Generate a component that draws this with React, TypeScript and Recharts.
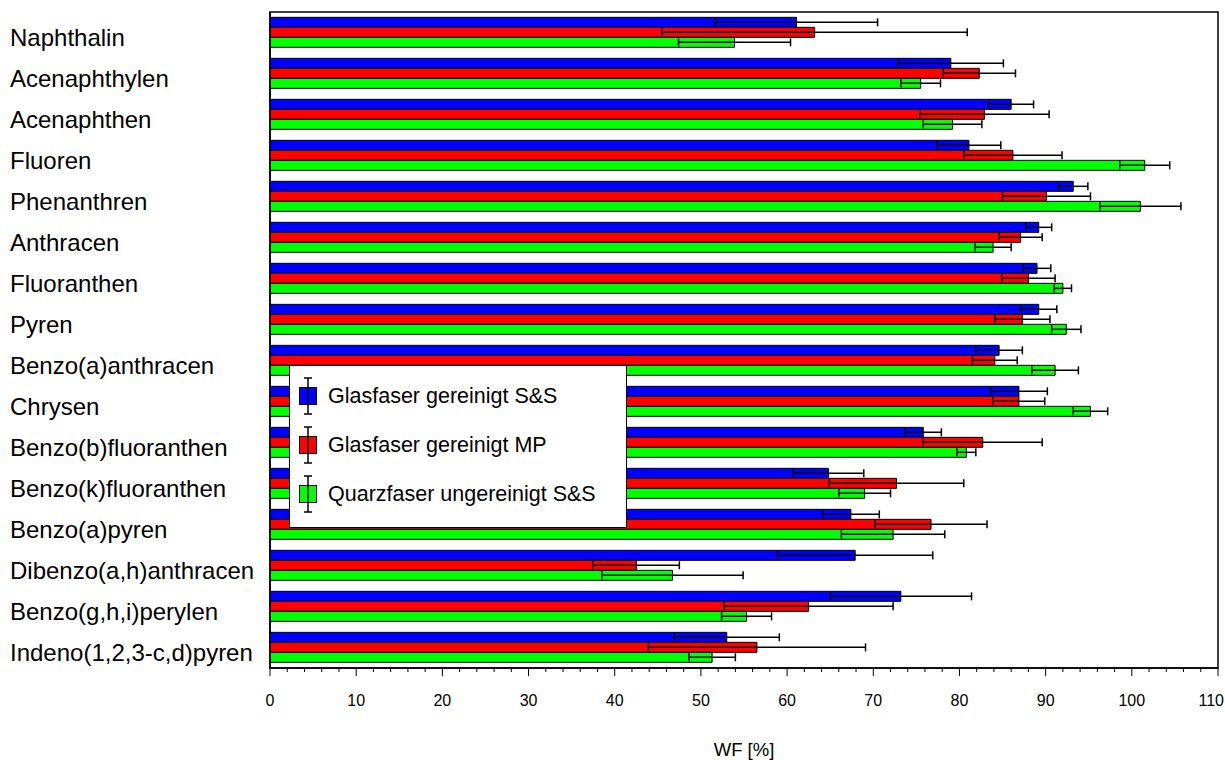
import { Bar, BarChart, ErrorBar, Legend, ReferenceArea, XAxis, YAxis } from "recharts";

const COMPOUNDS = [
  "Naphthalin",
  "Acenaphthylen",
  "Acenaphthen",
  "Fluoren",
  "Phenanthren",
  "Anthracen",
  "Fluoranthen",
  "Pyren",
  "Benzo(a)anthracen",
  "Chrysen",
  "Benzo(b)fluoranthen",
  "Benzo(k)fluoranthen",
  "Benzo(a)pyren",
  "Dibenzo(a,h)anthracen",
  "Benzo(g,h,i)perylen",
  "Indeno(1,2,3-c,d)pyren",
];

// WF [%] mean and standard deviation per filter type
const GLAS_SS = [61.1, 79.0, 86.0, 81.1, 93.2, 89.2, 89.0, 89.2, 84.6, 86.9, 75.8, 64.8, 67.4, 67.9, 73.2, 53.0];
const GLAS_SS_ERR = [9.4, 6.1, 2.6, 3.7, 1.7, 1.5, 1.6, 2.1, 2.7, 3.3, 2.1, 4.1, 3.3, 9.0, 8.2, 6.1];
const GLAS_MP = [63.2, 82.3, 82.9, 86.2, 90.1, 87.1, 88.0, 87.3, 84.1, 86.9, 82.7, 72.7, 76.7, 42.5, 62.5, 56.5];
const GLAS_MP_ERR = [17.7, 4.2, 7.5, 5.7, 5.1, 2.5, 3.1, 3.2, 2.6, 3.0, 6.9, 7.8, 6.5, 5.0, 9.8, 12.6];
const QUARZ_SS = [53.9, 75.5, 79.2, 101.5, 101.0, 83.9, 92.0, 92.4, 91.1, 95.2, 80.8, 69.0, 72.3, 46.7, 55.3, 51.3];
const QUARZ_SS_ERR = [6.5, 2.3, 3.4, 2.9, 4.7, 2.1, 1.0, 1.7, 2.7, 2.0, 1.1, 3.0, 6.0, 8.2, 2.9, 2.7];

const SERIES = [
  { key: "glasSS", name: "Glasfaser gereinigt S&S", color: "#0000ff" },
  { key: "glasMP", name: "Glasfaser gereinigt MP", color: "#ff0000" },
  { key: "quarzSS", name: "Quarzfaser ungereinigt S&S", color: "#00ff00" },
];

const X_MAX = 110;
const X_TICKS = Array.from({ length: X_MAX / 2 + 1 }, (_, i) => i * 2);

const FONT = '"Liberation Sans", Arial, sans-serif';

const data = COMPOUNDS.map((name, i) => ({
  name,
  glasSS: GLAS_SS[i],
  glasSSErr: GLAS_SS_ERR[i],
  glasMP: GLAS_MP[i],
  glasMPErr: GLAS_MP_ERR[i],
  quarzSS: QUARZ_SS[i],
  quarzSSErr: QUARZ_SS_ERR[i],
}));

// long ticks with labels every 10, short ones every 2
function XTick({ x, y, payload }: any) {
  const v = payload.value;
  const major = v % 10 === 0;
  const last = v === X_MAX;
  return (
    <g>
      <line x1={x} x2={x} y1={y} y2={y + (major ? 8 : 4)} stroke="#000" />
      {major && (
        <text
          x={last ? x + 6 : x}
          y={y + 38}
          textAnchor={last ? "end" : "middle"}
          fontSize={16}
          fontFamily={FONT}
          fill="#000"
        >
          {v}
        </text>
      )}
    </g>
  );
}

function YTick({ y, payload }: any) {
  return (
    <text x={10} y={y + 13} fontSize={24} fontFamily={FONT} fill="#000">
      {payload.value}
    </text>
  );
}

function LegendBox() {
  return (
    <div
      style={{
        width: 336,
        height: 161,
        background: "#fff",
        border: "1px solid #000",
        position: "relative",
        fontFamily: FONT,
      }}
    >
      {SERIES.map((s, i) => (
        <div
          key={s.key}
          style={{ position: "absolute", left: 8, top: 10 + i * 49, height: 40, display: "flex", alignItems: "center" }}
        >
          <svg width={20} height={40}>
            <line x1={10} x2={10} y1={2} y2={38} stroke="#000" strokeWidth={1.5} />
            <line x1={6} x2={14} y1={2} y2={2} stroke="#000" strokeWidth={1.5} />
            <line x1={6} x2={14} y1={38} y2={38} stroke="#000" strokeWidth={1.5} />
            <rect x={1.5} y={11.5} width={17} height={17} fill={s.color} stroke="#000" />
            <line x1={10} x2={10} y1={11.5} y2={28.5} stroke="#000" strokeWidth={1.5} />
          </svg>
          <span style={{ marginLeft: 10, fontSize: 21.5, color: "#000" }}>{s.name}</span>
        </div>
      ))}
    </div>
  );
}

export default function App() {
  return (
    <div style={{ position: "absolute", left: 0, top: 0, width: 1225, height: 760, background: "#fff" }}>
      <BarChart
        width={1225}
        height={760}
        data={data}
        layout="vertical"
        margin={{ top: 12, right: 7, left: 0, bottom: 0 }}
        barCategoryGap="13%"
        barGap={0}
      >
        <XAxis
          type="number"
          domain={[0, X_MAX]}
          ticks={X_TICKS}
          interval={0}
          tick={<XTick />}
          tickLine={false}
          tickSize={0}
          tickMargin={0}
          axisLine={{ stroke: "#000", strokeWidth: 1.5 }}
          height={92}
          allowDataOverflow
          label={{ value: "WF [%]", position: "insideBottom", offset: 4, fontSize: 18.5, fontFamily: FONT, fill: "#000" }}
        />
        <YAxis
          type="category"
          dataKey="name"
          width={270}
          tick={<YTick />}
          tickLine={false}
          axisLine={{ stroke: "#000", strokeWidth: 1.5 }}
          interval={0}
        />
        <ReferenceArea x1={0} x2={X_MAX} fill="none" stroke="#000" strokeWidth={1.5} />
        <Legend
          verticalAlign="middle"
          align="center"
          layout="horizontal"
          content={<LegendBox />}
          wrapperStyle={{ position: "absolute", left: 289, top: 365, width: 338, height: 163 }}
        />
        {SERIES.map((s) => (
          <Bar key={s.key} dataKey={s.key} name={s.name} fill={s.color} stroke="#000" strokeWidth={1} isAnimationActive={false}>
            <ErrorBar dataKey={`${s.key}Err`} direction="x" width={4} stroke="#000" strokeWidth={1.5} />
          </Bar>
        ))}
      </BarChart>
    </div>
  );
}
